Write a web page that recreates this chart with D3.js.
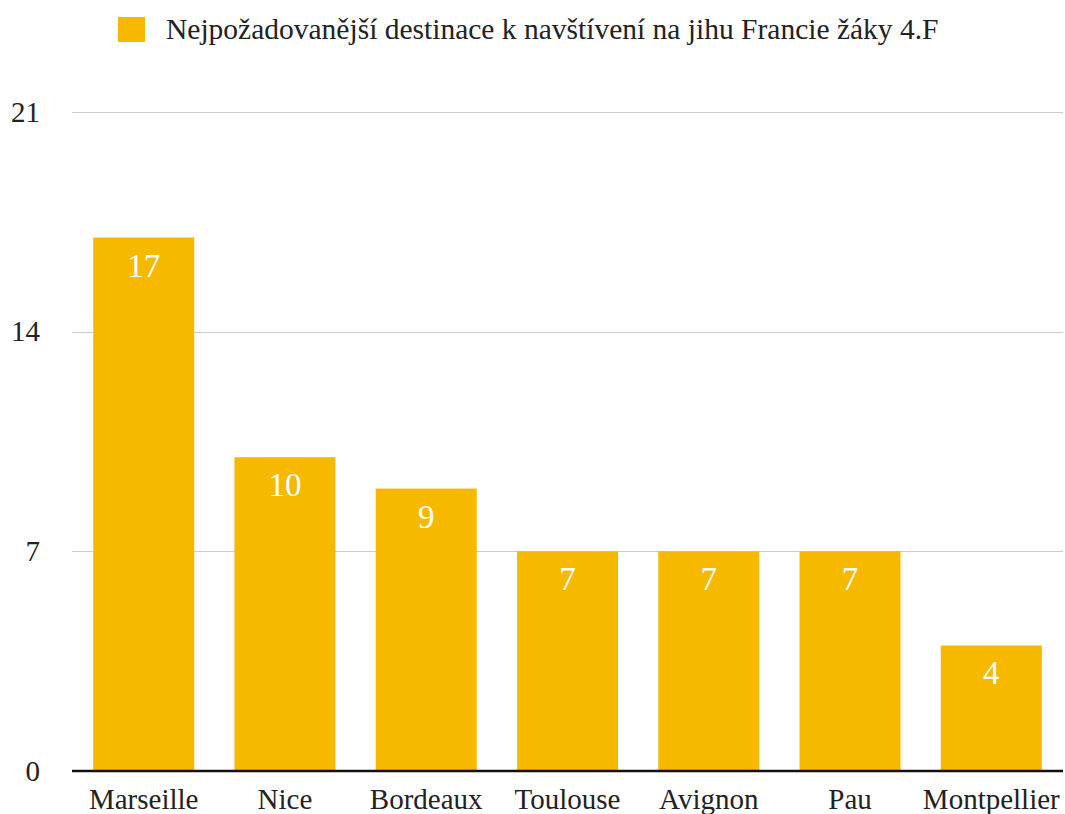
<!DOCTYPE html>
<html>
<head>
    <meta charset="utf-8">
    <script src="https://d3js.org/d3.v7.min.js"></script>
    <style>
        body {
            margin: 0;
            background: white;
        }
    </style>
</head>
<body>
    <svg id="chart"></svg>

<script>
    // data
    let cities = ["Marseille", "Nice", "Bordeaux", "Toulouse", "Avignon", "Pau", "Montpellier"]
    let votes = [17, 10, 9, 7, 7, 7, 4]
    let yTicks = [0, 7, 14, 21]
    let seriesName = "Nejpožadovanější destinace k navštívení na jihu Francie žáky 4.F"

    let width = 1065
    let height = 814
    let margin = { top: 112, bottom: 43, left: 72, right: 2 }
    let barColor = "#f6b900"
    let serif = '"Liberation Serif", "Times New Roman", serif'

    let svg = d3.select("#chart")
        .attr("width", width)
        .attr("height", height)
        .style("font-family", serif)

    let xScale = d3.scaleBand()
        .domain(cities)
        .range([margin.left, width - margin.right])
        .paddingInner(0.285)
        .paddingOuter(0.15)

    let yScale = d3.scaleLinear()
        .domain([0, 21])
        .range([height - margin.bottom, margin.top])

    // gridlines
    svg.append("g")
        .selectAll("line")
        .data(yTicks.filter(t => t > 0))
        .enter().append("line")
        .attr("x1", margin.left)
        .attr("x2", width - margin.right)
        .attr("y1", d => Math.round(yScale(d)) + 0.5)
        .attr("y2", d => Math.round(yScale(d)) + 0.5)
        .attr("stroke", "#cccccc")
        .attr("stroke-width", 1)

    // y tick labels
    let axisY = d3.axisLeft(yScale).tickValues(yTicks).tickSize(0).tickPadding(0)
    let gy = svg.append("g")
        .attr("transform", `translate(40,0)`)
        .call(axisY)
    gy.attr("font-family", null)
    gy.select(".domain").remove()
    gy.selectAll("text")
        .style("font-family", serif)
        .attr("font-size", 29)
        .attr("fill", "#222")

    // bars
    svg.append("g")
        .selectAll("rect")
        .data(cities)
        .enter().append("rect")
        .attr("x", d => xScale(d))
        .attr("width", xScale.bandwidth())
        .attr("y", (d, i) => yScale(votes[i]))
        .attr("height", (d, i) => yScale(0) - yScale(votes[i]))
        .attr("fill", barColor)

    // value labels
    svg.append("g")
        .selectAll("text")
        .data(cities)
        .enter().append("text")
        .attr("x", d => xScale(d) + xScale.bandwidth() / 2)
        .attr("y", (d, i) => yScale(votes[i]) + 39)
        .attr("text-anchor", "middle")
        .style("font-family", serif)
        .attr("font-size", 33)
        .attr("fill", "white")
        .text((d, i) => votes[i])

    // x axis
    let axisX = d3.axisBottom(xScale).tickSize(0).tickPadding(0)
    let gx = svg.append("g")
        .attr("transform", `translate(0,${yScale(0)})`)
        .call(axisX)
    gx.attr("font-family", null)
    gx.select(".domain")
        .attr("stroke", "#111")
        .attr("stroke-width", 2.5)
        .attr("d", `M${margin.left},0H${width - margin.right}`)
    gx.selectAll("text")
        .style("font-family", serif)
        .attr("font-size", 29)
        .attr("fill", "#222")
        .attr("dy", null)
        .attr("y", 38)

    // legend
    let legend = svg.append("g")
    legend.append("rect")
        .attr("x", 118)
        .attr("y", 17)
        .attr("width", 27)
        .attr("height", 25)
        .attr("fill", barColor)
    legend.append("text")
        .attr("x", 166)
        .attr("y", 39)
        .style("font-family", serif)
        .attr("font-size", 29.5)
        .attr("fill", "#222")
        .text(seriesName)
</script>
</body>
</html>
